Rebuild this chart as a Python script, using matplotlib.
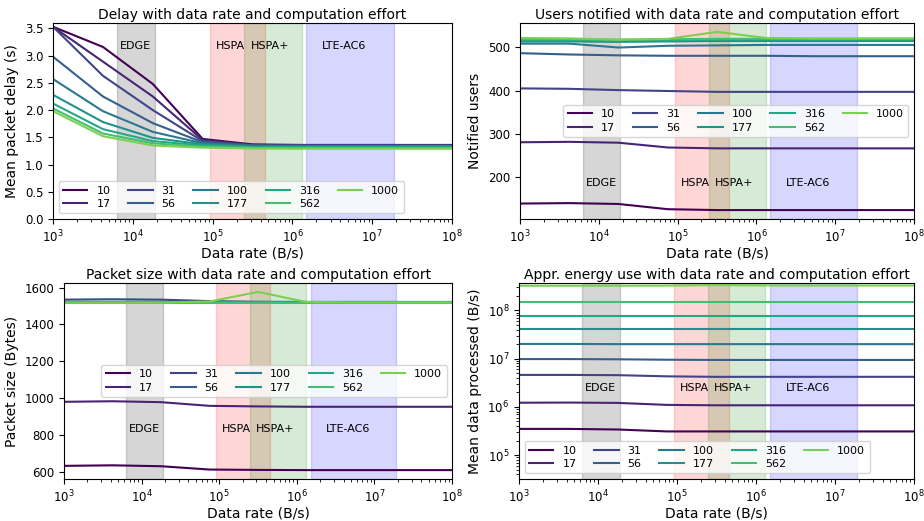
import numpy as np
import matplotlib
matplotlib.use("Agg")
import matplotlib.pyplot as plt

# data rate grid (B/s)
rates = [1e3, 4.22e3, 1.78e4, 7.5e4, 3.16e5, 1.33e6, 5.62e6, 2.37e7, 1e8]
efforts = ["10", "17", "31", "56", "100", "177", "316", "562", "1000"]

delay = [
    [3.53, 3.16, 2.48, 1.47, 1.37, 1.36, 1.36, 1.36, 1.36],
    [3.53, 2.89, 2.25, 1.45, 1.36, 1.355, 1.355, 1.355, 1.355],
    [3.53, 2.63, 2.00, 1.43, 1.355, 1.35, 1.35, 1.35, 1.35],
    [2.98, 2.25, 1.76, 1.41, 1.35, 1.345, 1.345, 1.345, 1.345],
    [2.57, 1.98, 1.60, 1.39, 1.34, 1.34, 1.34, 1.34, 1.34],
    [2.28, 1.78, 1.49, 1.37, 1.33, 1.33, 1.33, 1.33, 1.33],
    [2.12, 1.65, 1.43, 1.35, 1.32, 1.32, 1.32, 1.32, 1.32],
    [2.03, 1.57, 1.39, 1.33, 1.305, 1.305, 1.305, 1.305, 1.305],
    [1.98, 1.52, 1.35, 1.31, 1.295, 1.29, 1.29, 1.29, 1.29],
]

users = [
    [140, 141, 139, 127, 125, 125, 125, 125, 125],
    [281, 282, 280, 269, 267, 267, 267, 267, 267],
    [405, 404, 401, 399, 397, 397, 397, 397, 397],
    [486, 483, 481, 480, 480, 480, 479, 479, 479],
    [508, 508, 499, 503, 504, 505, 505, 505, 505],
    [513, 513, 512, 513, 514, 514, 514, 514, 514],
    [516, 516, 515, 516, 517, 517, 517, 517, 517],
    [518, 518, 517, 518, 519, 519, 519, 519, 519],
    [521, 520, 517, 519, 535, 521, 520, 520, 520],
]

packet = [
    [632, 635, 630, 612, 610, 609, 609, 609, 609],
    [980, 983, 978, 958, 955, 953, 953, 953, 953],
    [1535, 1537, 1535, 1527, 1523, 1522, 1522, 1522, 1522],
    [1522, 1522, 1522, 1521, 1521, 1521, 1521, 1521, 1521],
    [1521, 1521, 1521, 1521, 1521, 1521, 1521, 1521, 1521],
    [1520, 1520, 1520, 1520, 1520, 1520, 1520, 1520, 1520],
    [1520, 1520, 1520, 1520, 1520, 1520, 1520, 1520, 1520],
    [1519, 1519, 1519, 1519, 1519, 1519, 1519, 1519, 1519],
    [1519, 1519, 1519, 1525, 1577, 1522, 1520, 1520, 1520],
]

energy = [
    [3.5e5, 3.5e5, 3.4e5, 3.1e5, 3.1e5, 3.1e5, 3.1e5, 3.1e5, 3.1e5],
    [1.22e6, 1.23e6, 1.21e6, 1.10e6, 1.08e6, 1.08e6, 1.08e6, 1.08e6, 1.08e6],
    [4.6e6, 4.6e6, 4.55e6, 4.3e6, 4.2e6, 4.2e6, 4.2e6, 4.2e6, 4.2e6],
    [9.8e6, 9.8e6, 9.7e6, 9.5e6, 9.4e6, 9.4e6, 9.4e6, 9.4e6, 9.4e6],
    [2.02e7, 2.02e7, 2.0e7, 2.0e7, 2.0e7, 2.0e7, 2.0e7, 2.0e7, 2.0e7],
    [4.1e7, 4.1e7, 4.1e7, 4.1e7, 4.1e7, 4.1e7, 4.1e7, 4.1e7, 4.1e7],
    [7.8e7, 7.8e7, 7.8e7, 7.8e7, 7.8e7, 7.8e7, 7.8e7, 7.8e7, 7.8e7],
    [1.51e8, 1.51e8, 1.51e8, 1.51e8, 1.51e8, 1.51e8, 1.51e8, 1.51e8, 1.51e8],
    [3.25e8, 3.25e8, 3.25e8, 3.27e8, 3.35e8, 3.3e8, 3.28e8, 3.28e8, 3.28e8],
]

# network technology ranges (B/s)
bands = [("EDGE", 6.25e3, 1.875e4, "k"),
         ("HSPA", 9.2e4, 4.5e5, "r"),
         ("HSPA+", 2.5e5, 1.31e6, "g"),
         ("LTE-AC6", 1.5e6, 1.875e7, "b")]
band_label_x = [1.08e4, 1.68e5, 5.2e5, 4.5e6]

colors = plt.cm.viridis(np.linspace(0, 0.8, len(efforts)))


def draw(ax, series, title, ylabel, label_y, legend_loc, logy=False):
    for (name, lo, hi, c), tx in zip(bands, band_label_x):
        ax.axvspan(lo, hi, color=c, alpha=0.16)
        ax.text(tx, label_y, name, ha="center", va="center", fontsize=8)
    for vals, lab, col in zip(series, efforts, colors):
        ax.plot(rates, vals, color=col, label=lab, lw=1.5)
    ax.set_xscale("log")
    if logy:
        ax.set_yscale("log")
    ax.set_xlim(1e3, 1e8)
    ax.set_title(title, fontsize=10, pad=3)
    ax.set_xlabel("Data rate (B/s)", fontsize=10, labelpad=1)
    ax.set_ylabel(ylabel, fontsize=10)
    ax.tick_params(labelsize=8.5)
    ax.legend(loc=legend_loc, ncol=5, fontsize=8, handlelength=2.2,
              columnspacing=1.6, labelspacing=0.3)


fig = plt.figure(figsize=(9.24, 5.21), dpi=100)
ax1 = fig.add_axes([0.0574, 0.5797, 0.4318, 0.3762])
ax2 = fig.add_axes([0.5628, 0.5797, 0.4264, 0.3762])
ax3 = fig.add_axes([0.0693, 0.0806, 0.4200, 0.3762])
ax4 = fig.add_axes([0.5617, 0.0806, 0.4275, 0.3762])

draw(ax1, delay, "Delay with data rate and computation effort",
     "Mean packet delay (s)", 3.18, "lower left")
ax1.set_ylim(0, 3.6)

draw(ax2, users, "Users notified with data rate and computation effort",
     "Notified users", 188, "center right")

draw(ax3, packet, "Packet size with data rate and computation effort",
     "Packet size (Bytes)", 834, "center right")

draw(ax4, energy, "Appr. energy use with data rate and computation effort",
     "Mean data processed (B/s)", 2.5e6, "lower left", logy=True)
ax4.set_ylim(3.2e4, 3.7e8)

fig.savefig("out.png", dpi=100)
